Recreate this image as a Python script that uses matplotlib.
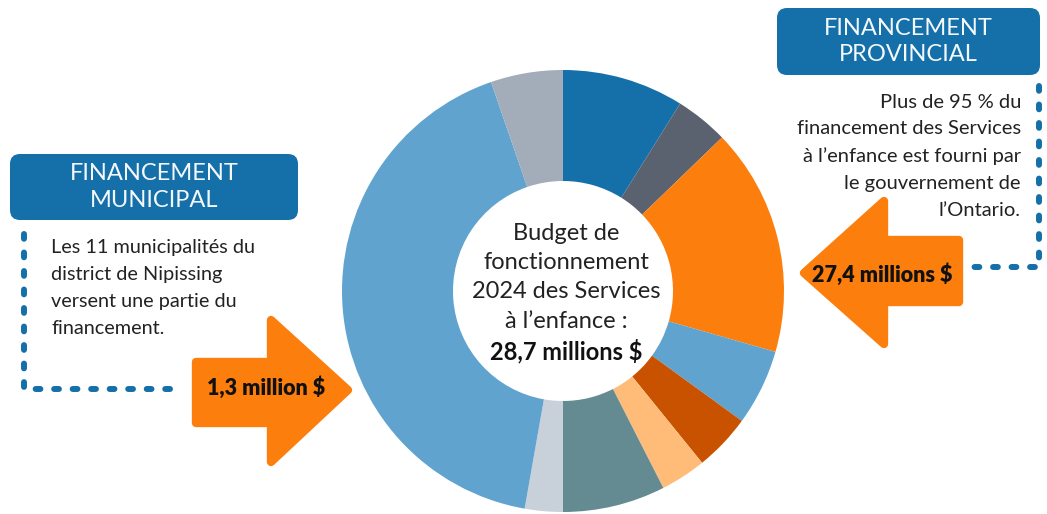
import matplotlib
matplotlib.use("Agg")
import matplotlib.pyplot as plt
from matplotlib.patches import FancyBboxPatch, Polygon

# ---------------- DATA ----------------
# donut slices, clockwise from 12 o'clock (share of the 28,7 M$ budget, in degrees-ish units)
slice_values = [32, 14, 60, 20, 15, 12, 27, 10, 151, 19]
slice_colors = ['#1570aa', '#5a6270', '#fc7f0e', '#60a3cf', '#c85200',
                '#ffbc79', '#638b91', '#c8d0d9', '#60a3cf', '#a3acb9']

center_lines = ['Budget de', 'fonctionnement', '2024 des Services', 'à l\u2019enfance :']
center_total = '28,7 millions $'

muni_title = 'FINANCEMENT\nMUNICIPAL'
muni_lines = ['Les 11 municipalités du', 'district de Nipissing',
              'versent une partie du', 'financement.']
muni_amount = '1,3 million $'

prov_title = 'FINANCEMENT\nPROVINCIAL'
prov_lines = ['Plus de 95 % du', 'financement des Services',
              'à l\u2019enfance est fourni par', 'le gouvernement de', 'l\u2019Ontario.']
prov_amount = '27,4 millions $'
# --------------------------------------

W, H = 1047, 514
BLUE = '#1570aa'
ORANGE = '#fc7f0e'
TXT = '#222222'
FONT = 'Lato'


def Y(y):
    # picture rows -> axes y (axes y goes up)
    return H - y


fig = plt.figure(figsize=(W / 100, H / 100), dpi=100)
ax = fig.add_axes([0, 0, 1, 1])

# --- donut ---
ax.pie(slice_values, colors=slice_colors, startangle=90, counterclock=False,
       center=(563, Y(291)), radius=221,
       wedgeprops=dict(width=111, linewidth=0))

ax.set_xlim(0, W)
ax.set_ylim(0, H)
ax.set_aspect('equal')
ax.axis('off')

# center text
for i, line in enumerate(center_lines):
    ax.text(566, Y(233 + i * 29.5), line, ha='center', va='center',
            fontsize=17, family=FONT, color=TXT)
ax.text(566, Y(351), center_total, ha='center', va='center',
        fontsize=17, family=FONT, color='#111111', fontweight='bold')

# --- title boxes ---
def title_box(x0, y0, x1, y1, label):
    box = FancyBboxPatch((x0, Y(y1)), x1 - x0, y1 - y0,
                         boxstyle='round,pad=0,rounding_size=10',
                         facecolor=BLUE, edgecolor='none')
    ax.add_patch(box)
    ax.text((x0 + x1) / 2, Y((y0 + y1) / 2), label, ha='center', va='center',
            fontsize=17, family=FONT, fontweight='normal', color='#f4f8fb',
            linespacing=1.35)

title_box(10, 154, 298, 220, muni_title)
title_box(777, 8, 1040, 75, prov_title)

# --- descriptive texts ---
for i, line in enumerate(muni_lines):
    ax.text(51, Y(248 + i * 26.7), line, ha='left', va='center',
            fontsize=14.3, family=FONT, color=TXT)
for i, line in enumerate(prov_lines):
    ax.text(1021, Y(102 + i * 27), line, ha='right', va='center',
            fontsize=14.5, family=FONT, color=TXT)

# --- dotted connectors ---
dots = dict(color=BLUE, lw=4.3, linestyle=(0, (0.8, 2.3)),
            dash_capstyle='round', solid_capstyle='round')
ax.plot([24, 24, 183], [Y(234), Y(389), Y(389)], **dots)
ax.plot([1039, 1039, 970], [Y(86), Y(267), Y(267)], **dots)

# --- arrows ---
def arrow(pts):
    poly = Polygon([(x, Y(y)) for x, y in pts], closed=True,
                   facecolor=ORANGE, edgecolor=ORANGE, lw=6, joinstyle='round')
    ax.add_patch(poly)

arrow([(196, 362), (271, 362), (271, 320), (348, 390),
       (271, 462), (271, 423), (196, 423)])
arrow([(959, 240), (884, 240), (884, 201), (804, 273),
       (884, 344), (884, 302), (959, 302)])

ax.text(266, Y(388), muni_amount, ha='center', va='center',
        fontsize=15.5, family=FONT, fontweight='heavy', color='#111111')
ax.text(882, Y(275), prov_amount, ha='center', va='center',
        fontsize=15.5, family=FONT, fontweight='heavy', color='#111111')

fig.savefig('out.png', dpi=100, facecolor='white')
